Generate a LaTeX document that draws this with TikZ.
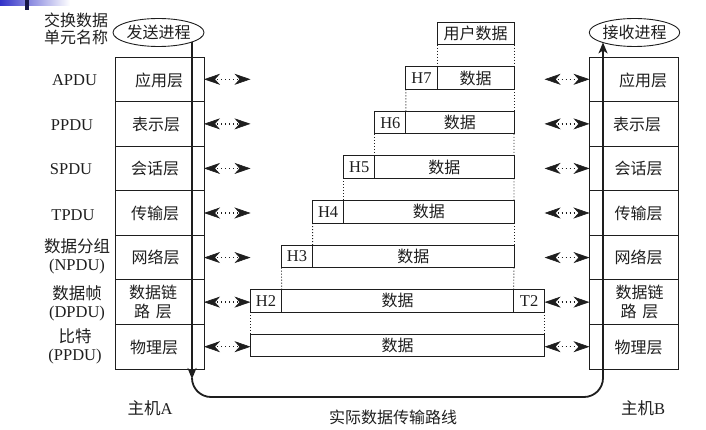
\documentclass[tikz,border=0pt]{standalone}
\usepackage{fontspec}
\setmainfont{Liberation Serif}
\newfontfamily\cjk{Noto Sans CJK SC}
\usetikzlibrary{arrows.meta,shapes.geometric,backgrounds}
\definecolor{ink}{RGB}{30,30,30}
\definecolor{slideblue}{RGB}{50,50,200}
\definecolor{slidenavy}{RGB}{20,20,70}
\begin{document}
\begin{tikzpicture}[x=1pt,y=-1pt,
  every node/.style={inner sep=0pt, outer sep=0pt, text=ink},
  zh/.style={font=\cjk\fontsize{16}{19}\selectfont},
  en/.style={font=\fontsize{16.5}{18}\selectfont},
  layerbox/.style={draw=ink, line width=0.9pt, minimum width=89pt, minimum height=44.57pt},
  databox/.style={draw=ink, line width=0.9pt, minimum height=22.5pt, font=\fontsize{16.5}{18}\selectfont},
  procell/.style={ellipse, draw=ink, line width=0.9pt, fill=white, minimum height=28pt, font=\cjk\fontsize{16}{19}\selectfont},
  procline/.style={draw=ink, line width=1.8pt},
  bigtip/.style={-{Stealth[length=11pt,width=9pt,inset=3pt]}},
  dotarrow/.style={draw=ink, line width=1.4pt, dash pattern=on 1.4pt off 2.6pt, shorten <=13pt, shorten >=13pt},
  tipsonly/.style={tips=true, color=ink, line width=0.6pt,
    {Stealth[length=16pt,width=11pt,inset=5pt]}-{Stealth[length=16pt,width=11pt,inset=5pt]}},
  dotline/.style={draw=ink, line width=0.9pt, dash pattern=on 1pt off 2pt}
]
\useasboundingbox (0,0) rectangle (706,430);

% slide decoration
\shade[left color=slideblue, right color=white] (0,0) rectangle (70,6);
\fill[slidenavy] (25,0) rectangle (29,10);

% layer stacks
\foreach \k/\yc in {7/79.29,6/123.86,5/168.43,4/213.0,3/257.57,2/302.14,1/346.71}{
  \node[layerbox] (L\k) at (159.5,\yc) {};
  \node[layerbox] (R\k) at (634,\yc) {};
}

% process ellipses
\node[procell, minimum width=91pt] (Lproc) at (158.5,32.5) {发送进程};
\node[procell, minimum width=89pt] (Rproc) at (634.5,32.5) {接收进程};

% left-column labels
\node[zh, align=center, font=\cjk\fontsize{16}{17}\selectfont] (hdr) at (76,29) {交换数据\\单元名称};
\node[en] (n7) at (74.5,80) {APDU};
\node[en] (n6) at (72,125) {PPDU};
\node[en] (n5) at (71,169) {SPDU};
\node[en] (n4) at (73,215) {TPDU};
\node[en, align=center] (n3) at (77,256) {{\cjk 数据分组}\\(NPDU)};
\node[en, align=center] (n2) at (77,303) {{\cjk 数据帧}\\(DPDU)};
\node[en, align=center] (n1) at (75,346.5) {{\cjk 比特}\\(PPDU)};

% layer names
\node[zh] (lt7) at (159,80) {应用层};
\node[zh] (lt6) at (156,124.5) {表示层};
\node[zh] (lt5) at (155,168.5) {会话层};
\node[zh] (lt4) at (155,213) {传输层};
\node[zh] (lt3) at (155.5,257.6) {网络层};
\node[zh, align=center] (lt2) at (153,302.1) {数据链\\路\hspace{0.35em}层};
\node[zh] (lt1) at (154,347) {物理层};
\node[zh] (rt7) at (643,80) {应用层};
\node[zh] (rt6) at (637,124.5) {表示层};
\node[zh] (rt5) at (638.5,168.5) {会话层};
\node[zh] (rt4) at (638.5,213) {传输层};
\node[zh] (rt3) at (638.5,257.6) {网络层};
\node[zh, align=center] (rt2) at (639.5,302.1) {数据链\\路\hspace{0.35em}层};
\node[zh] (rt1) at (638.5,347) {物理层};

% data units
\node[databox, minimum width=77pt, font=\cjk\fontsize{16}{19}\selectfont] (U) at (475.5,33.5) {用户数据};
\node[databox, minimum width=31.1pt] (H7) at (421.45,78.1) {H7};
\node[databox, minimum width=77pt, font=\cjk\fontsize{16}{19}\selectfont] (D7) at (475.5,78.1) {数据};
\node[databox, minimum width=31.1pt] (H6) at (390.35,122.7) {H6};
\node[databox, minimum width=108.1pt, font=\cjk\fontsize{16}{19}\selectfont] (D6) at (459.95,122.7) {数据};
\node[databox, minimum width=31.1pt] (H5) at (359.25,167.2) {H5};
\node[databox, minimum width=139.2pt, font=\cjk\fontsize{16}{19}\selectfont] (D5) at (444.4,167.2) {数据};
\node[databox, minimum width=31.1pt] (H4) at (328.15,211.8) {H4};
\node[databox, minimum width=170.3pt, font=\cjk\fontsize{16}{19}\selectfont] (D4) at (428.85,211.8) {数据};
\node[databox, minimum width=31.1pt] (H3) at (297.05,256.4) {H3};
\node[databox, minimum width=201.4pt, font=\cjk\fontsize{16}{19}\selectfont] (D3) at (413.3,256.4) {数据};
\node[databox, minimum width=31.1pt] (H2) at (266.05,300.9) {H2};
\node[databox, minimum width=232pt, font=\cjk\fontsize{16}{19}\selectfont] (D2) at (397.6,300.9) {数据};
\node[databox, minimum width=31pt] (T2) at (529.1,300.9) {T2};
\node[databox, minimum width=294.1pt, font=\cjk\fontsize{16}{19}\selectfont] (P1) at (397.55,345.5) {数据};

% dotted guides between data units
\draw[dotline] (U.south west) -- (H7.north east);
\draw[dotline] (U.south east) -- (D7.north east);
\draw[dotline] (H7.south west) -- (H6.north east);
\draw[dotline] (D7.south east) -- (D6.north east);
\draw[dotline] (H6.south west) -- (H5.north east);
\draw[dotline] (D6.south east) -- (D5.north east);
\draw[dotline] (H5.south west) -- (H4.north east);
\draw[dotline] (D5.south east) -- (D4.north east);
\draw[dotline] (H4.south west) -- (H3.north east);
\draw[dotline] (D4.south east) -- (D3.north east);
\draw[dotline] (H3.south west) -- (H2.north east);
\draw[dotline] (D3.south east) -- (D2.north east);
\draw[dotline] (H2.south west) -- (P1.north west);
\draw[dotline] (T2.south east) -- (P1.north east);

% peer-to-peer dotted arrows
\foreach \k in {7,6,5,4,3,2,1}{
  \draw[dotarrow] (L\k.east) -- (L\k.east -| H2.west);
  \path[tipsonly] (L\k.east) -- (L\k.east -| H2.west);
  \draw[dotarrow] (R\k.west -| T2.east) -- (R\k.west);
  \path[tipsonly] (R\k.west -| T2.east) -- (R\k.west);
}

% actual data path
\coordinate (Ltop) at (192,42.2);
\coordinate (Lbot) at (192,379);
\coordinate (Bcorner) at (603,397);
\coordinate (Rtop) at (603,42.4);
\draw[procline, bigtip] (Ltop) -- (Lbot);
\draw[procline, bigtip, rounded corners=19pt] (Lbot) |- (Bcorner) -- (Rtop);

% bottom labels
\node[en] (hostA) at (150,408) {{\cjk 主机}A};
\node[en] (hostB) at (643,408) {{\cjk 主机}B};
\node[zh] (route) at (393,417) {实际数据传输路线};
\end{tikzpicture}
\end{document}
